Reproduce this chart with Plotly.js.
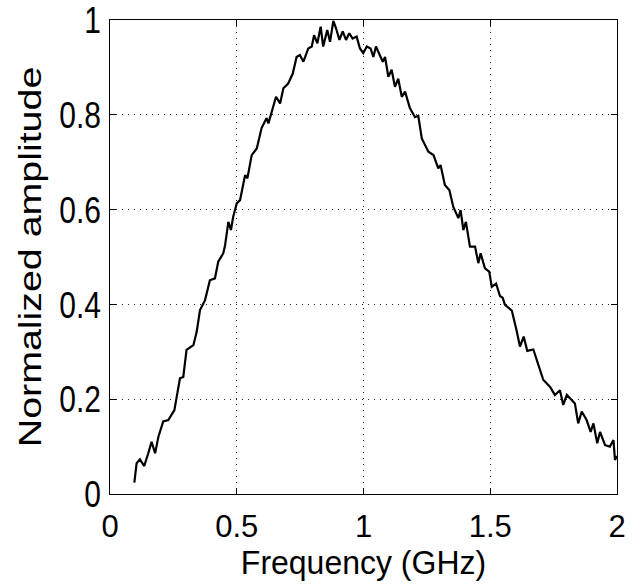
<!DOCTYPE html>
<html>
<head>
<meta charset="utf-8">
<script src="https://cdn.plot.ly/plotly-3.0.1.min.js"></script>
<style>html,body{margin:0;padding:0;background:#fff;}#plot{width:640px;height:584px;}</style>
</head>
<body>
<div id="plot"></div>
<script>
var freqGHz = [0.096,0.105,0.118,0.135,0.151,0.164,0.178,0.191,0.210,0.230,0.254,0.263,0.276,0.289,0.302,0.329,0.342,0.355,0.375,0.394,0.414,0.427,0.447,0.454,0.467,0.477,0.486,0.500,0.513,0.533,0.542,0.559,0.579,0.598,0.618,0.625,0.638,0.655,0.671,0.684,0.703,0.721,0.736,0.749,0.763,0.782,0.796,0.805,0.818,0.831,0.841,0.857,0.868,0.881,0.892,0.905,0.918,0.931,0.944,0.957,0.973,0.986,0.999,1.013,1.028,1.039,1.049,1.065,1.076,1.085,1.098,1.111,1.124,1.137,1.151,1.164,1.183,1.203,1.216,1.230,1.256,1.276,1.295,1.304,1.321,1.339,1.354,1.374,1.383,1.394,1.404,1.420,1.440,1.453,1.462,1.479,1.496,1.506,1.523,1.538,1.549,1.558,1.585,1.604,1.617,1.632,1.646,1.670,1.690,1.709,1.736,1.755,1.775,1.788,1.802,1.821,1.834,1.847,1.861,1.880,1.896,1.907,1.922,1.933,1.953,1.972,1.986,1.992,2.000];
var amplitude = [0.024,0.065,0.073,0.059,0.086,0.110,0.086,0.121,0.153,0.156,0.177,0.202,0.244,0.247,0.304,0.314,0.342,0.388,0.409,0.451,0.455,0.490,0.508,0.525,0.574,0.557,0.585,0.613,0.620,0.673,0.666,0.715,0.729,0.772,0.793,0.782,0.807,0.838,0.824,0.856,0.866,0.887,0.922,0.926,0.912,0.940,0.944,0.968,0.951,0.986,0.944,0.979,0.954,0.998,0.982,0.958,0.976,0.958,0.972,0.961,0.965,0.940,0.930,0.944,0.940,0.922,0.944,0.926,0.912,0.922,0.880,0.895,0.859,0.876,0.838,0.849,0.814,0.795,0.798,0.750,0.722,0.715,0.687,0.694,0.652,0.641,0.606,0.582,0.599,0.557,0.574,0.522,0.522,0.487,0.508,0.476,0.469,0.437,0.444,0.418,0.414,0.399,0.387,0.345,0.311,0.332,0.302,0.305,0.274,0.241,0.226,0.209,0.219,0.188,0.209,0.198,0.191,0.149,0.174,0.156,0.131,0.149,0.107,0.131,0.103,0.100,0.114,0.072,0.080];
var xTickVals = [0, 0.5, 1, 1.5, 2];
var xTickText = ["0", "0.5", "1", "1.5", "2"];
var yTickVals = [0, 0.2, 0.4, 0.6, 0.8, 1];
var yTickText = ["0", "0.2", "0.4", "0.6", "0.8", "1"];

var fontFam = "Liberation Sans, Arial, sans-serif";
var axisCommon = {
  showline: true, linecolor: "#000", linewidth: 1, mirror: "ticks",
  ticks: "inside", ticklen: 6, tickcolor: "#000", tickwidth: 1,
  showgrid: true, gridcolor: "#222", gridwidth: 1, griddash: "1px,5px",
  zeroline: false, tickmode: "array"
};
var layout = {
  width: 640, height: 584,
  margin: {l: 110, r: 23, t: 20, b: 90},
  paper_bgcolor: "#fff", plot_bgcolor: "#fff",
  showlegend: false,
  xaxis: Object.assign({}, axisCommon, {
    range: [0, 2], tickvals: xTickVals, ticktext: xTickText,
    tickfont: {family: fontFam, size: 31, color: "#000"},
    ticklabelstandoff: 5,
    title: {text: "Frequency (GHz)", font: {family: fontFam, size: 32, color: "#000"}, standoff: 6}
  }),
  yaxis: Object.assign({}, axisCommon, {
    range: [0, 1], tickvals: yTickVals, ticktext: yTickText,
    tickfont: {family: fontFam, size: 30, color: "#000"},
    ticklabelstandoff: 2,
    title: {text: "Normalized amplitude", font: {family: fontFam, size: 32, color: "#000"}, standoff: 8}
  })
};

function stretchText(gd, selector, sy) {
  var els = gd.querySelectorAll(selector);
  els.forEach(function (el) {
    var parent = el.parentNode;
    var ctm = parent.getScreenCTM();
    if (!ctm) return;
    var r = el.getBoundingClientRect();
    var svg = el.ownerSVGElement;
    var pt = svg.createSVGPoint();
    pt.x = r.left + r.width / 2;
    pt.y = r.top + r.height / 2;
    var p = pt.matrixTransform(ctm.inverse());
    var existing = el.getAttribute("transform") || "";
    el.setAttribute("transform",
      "translate(" + p.x + "," + p.y + ") scale(1," + sy + ") translate(" + (-p.x) + "," + (-p.y) + ") " + existing);
  });
}

Plotly.newPlot("plot", [{
  x: freqGHz, y: amplitude, type: "scatter", mode: "lines",
  line: {color: "#000", width: 2.2}
}], layout, {staticPlot: true}).then(function (gd) {
  stretchText(gd, "g.ytick text", 1.25);
  stretchText(gd, "text.ytitle", 1.23);
  stretchText(gd, "text.xtitle", 1.05);
});
</script>
</body>
</html>
